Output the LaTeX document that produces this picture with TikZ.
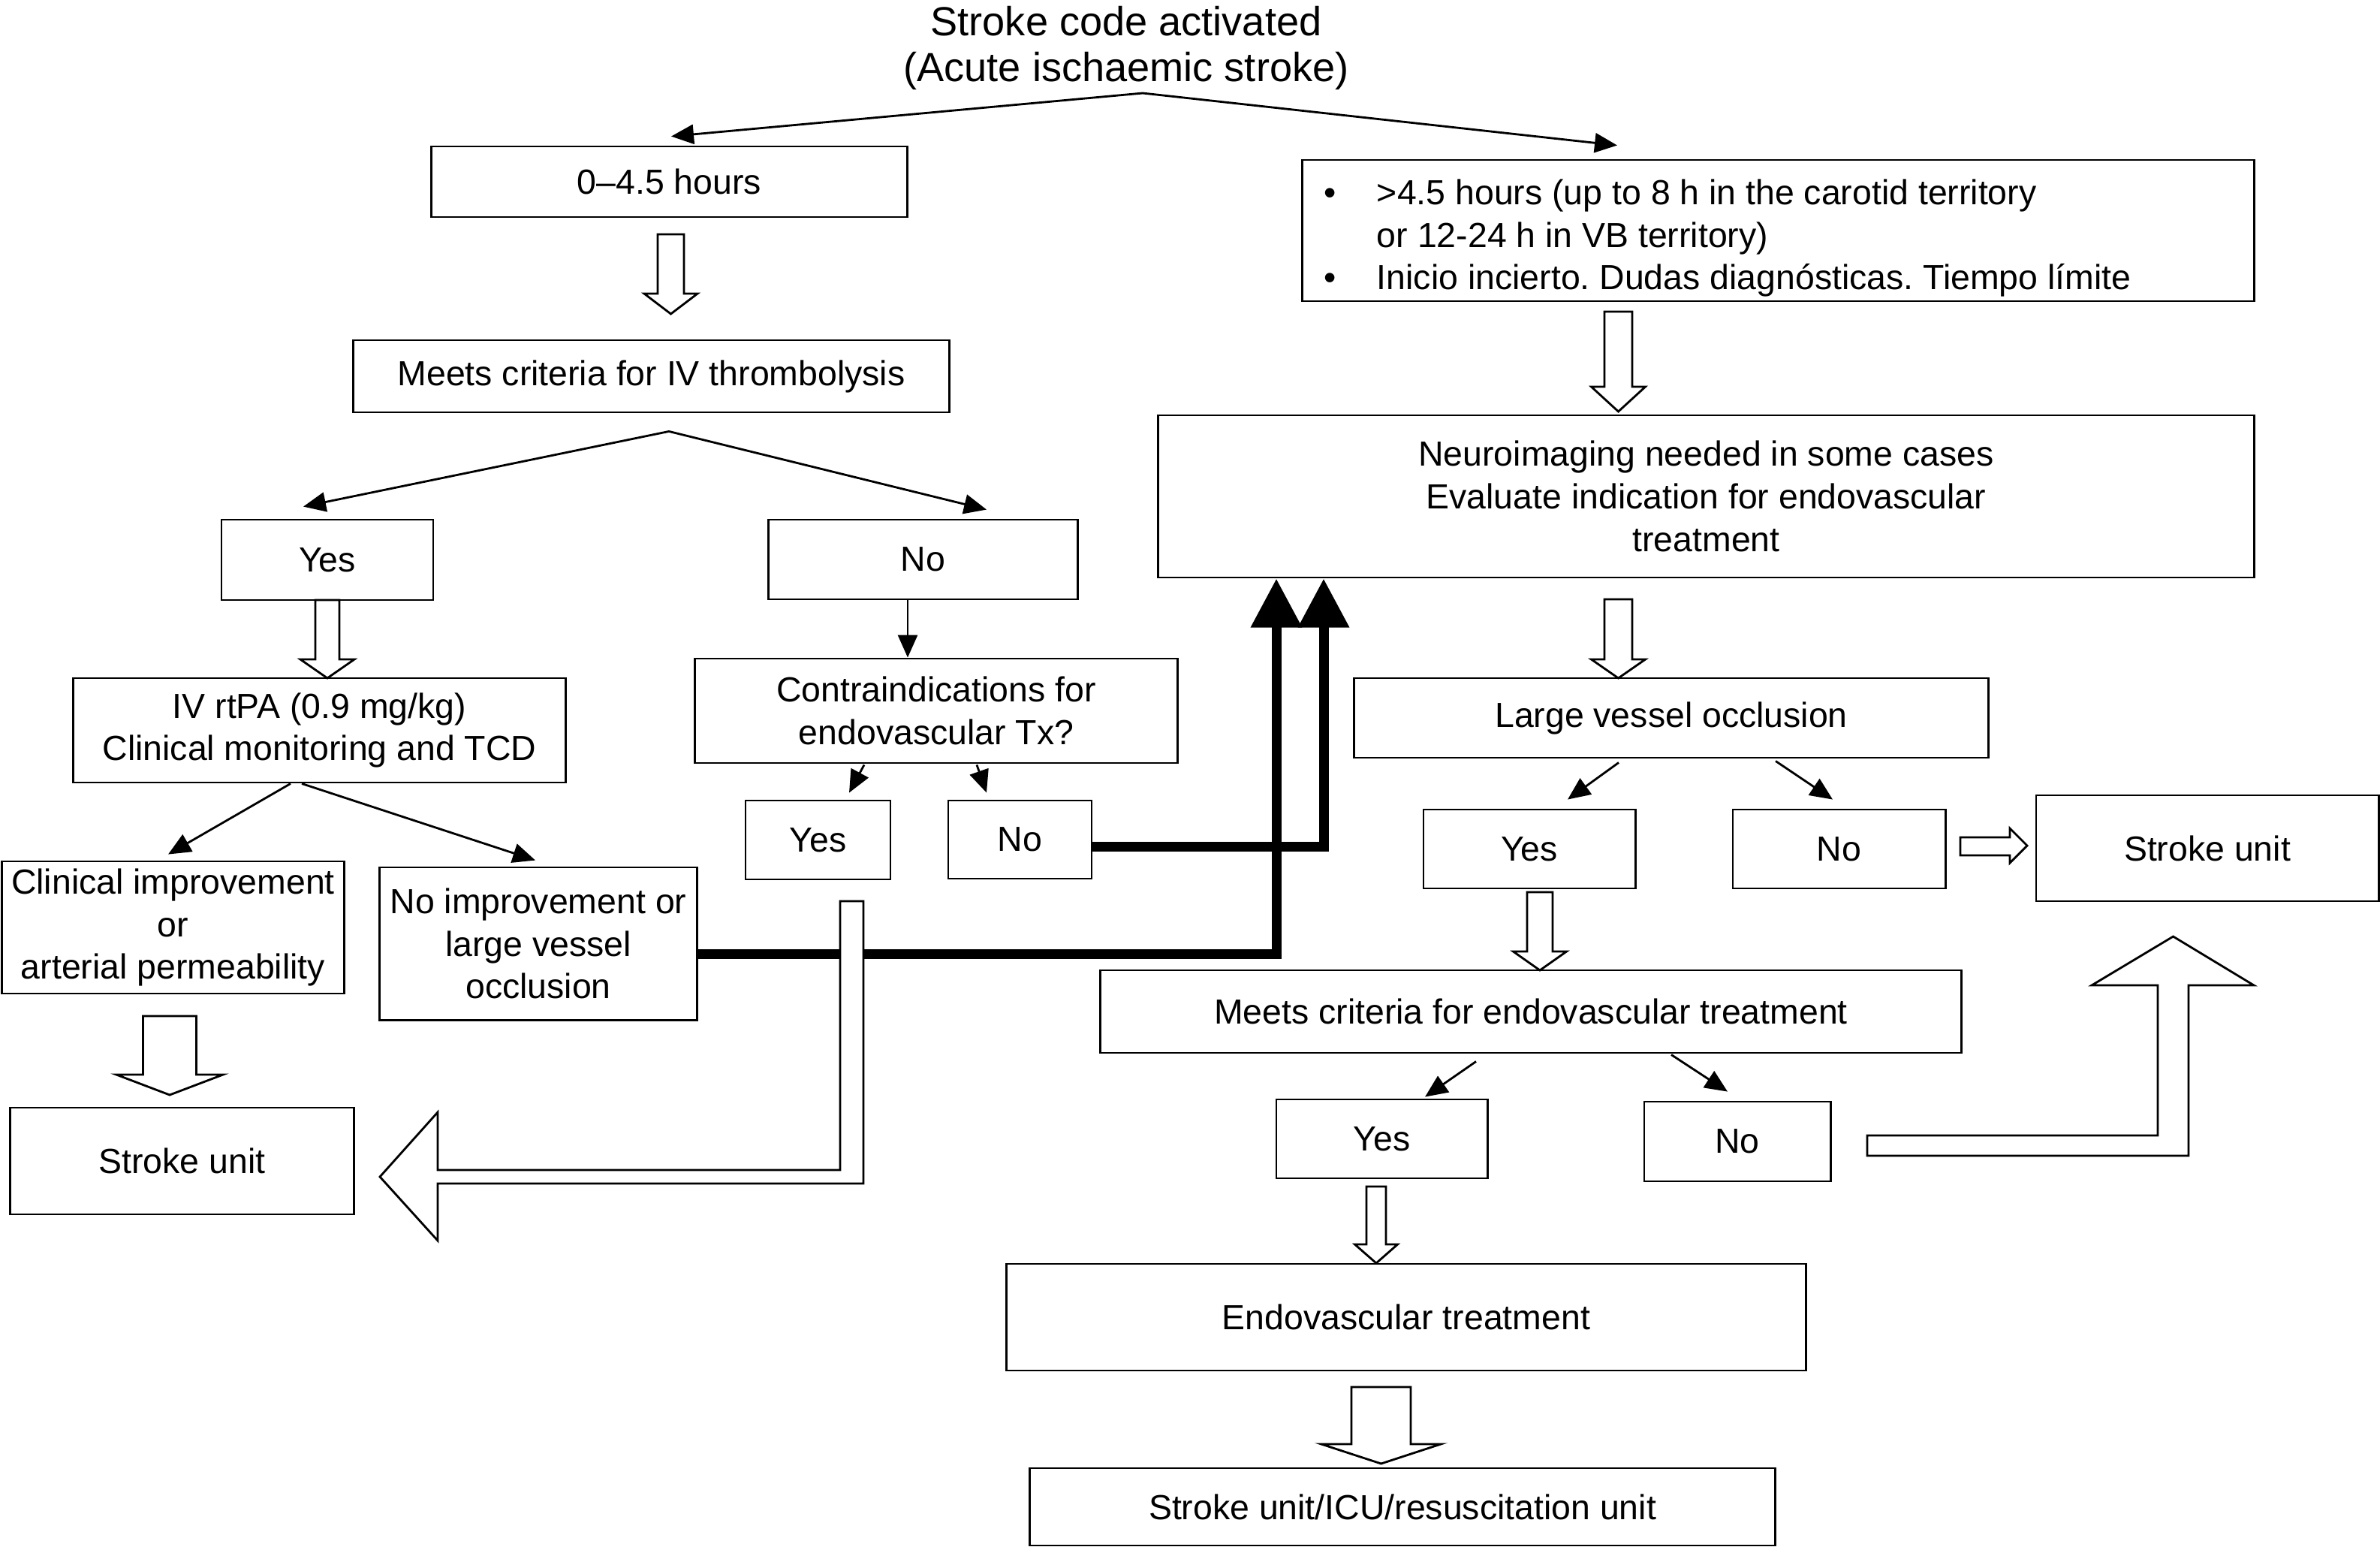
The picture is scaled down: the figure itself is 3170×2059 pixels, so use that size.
\documentclass[tikz,border=0pt]{standalone}
\usepackage{fontspec}
\setmainfont{Liberation Sans}
\usetikzlibrary{arrows.meta,calc}
\frenchspacing
\newcommand{\hdn}[6]{%
  \draw[hollow] (#1-#3,#2) -- (#1+#3,#2) -- (#1+#3,#4) -- (#1+#5,#4) -- (#1,#6) -- (#1-#5,#4) -- (#1-#3,#4) -- cycle;}
\begin{document}
\begin{tikzpicture}[x=0.01cm,y=-0.01cm,
  txt/.style={font=\fontsize{13.2pt}{16.1pt}\selectfont},
  box/.style={draw, line width=0.8pt, inner sep=0pt, align=center, txt},
  thinarrow/.style={line width=0.8pt, -{Triangle[length=3mm,width=2.6mm]}},
  thickarrow/.style={line width=1.3mm, -{Triangle[length=6.5mm,width=6.5mm]}},
  hollow/.style={draw, fill=white, line width=0.8pt, line join=miter}]
\useasboundingbox (0,0) rectangle (3170,2059);

% title
\node[font=\fontsize{15.4pt}{17.6pt}\selectfont, align=center] (title) at (1500,64)
  {Stroke code activated\\(Acute ischaemic stroke)};

% boxes
\node[box, minimum width=63.3mm, minimum height=9.4mm] (A) at (891.5,242) {0–4.5 hours};
\node[box, minimum width=79.3mm, minimum height=9.6mm] (B) at (867.5,501) {Meets criteria for IV thrombolysis};
\node[box, minimum width=126.7mm, minimum height=18.8mm] (C) at (2368.5,307) {};
\node[txt, anchor=west, align=left, inner sep=0pt] (Ct) at ($(C.west)+(30,10)$)
  {\makebox[7mm][l]{\textbullet}\textgreater4.5 hours (up to 8 h in the carotid territory\\
   \hspace*{7mm}or 12-24 h in VB territory)\\
   \makebox[7mm][l]{\textbullet}Inicio incierto. Dudas diagnósticas. Tiempo límite};
\node[box, minimum width=145.9mm, minimum height=21.6mm] (D) at (2272.5,661)
  {Neuroimaging needed in some cases\\Evaluate indication for endovascular\\treatment};
\node[box, minimum width=28.2mm, minimum height=10.7mm] (Y1) at (436,745.5) {Yes};
\node[box, minimum width=41.1mm, minimum height=10.6mm] (N1) at (1229.5,745) {No};
\node[box, minimum width=65.5mm, minimum height=13.9mm] (IV) at (425.5,972.5)
  {IV rtPA (0.9 mg/kg)\\Clinical monitoring and TCD};
\node[box, minimum width=64.2mm, minimum height=13.9mm] (CT) at (1247,946.5)
  {Contraindications for\\endovascular Tx?};
\node[box, minimum width=84.4mm, minimum height=10.6mm] (LVO) at (2226,956) {Large vessel occlusion};
\node[box, minimum width=19.3mm, minimum height=10.5mm] (Y3) at (1089.5,1118.5) {Yes};
\node[box, minimum width=19.1mm, minimum height=10.4mm] (N3) at (1358.5,1118) {No};
\node[box, minimum width=45.5mm, minimum height=17.6mm] (CI) at (230.5,1235)
  {Clinical improvement\\or\\arterial permeability};
\node[box, minimum width=42.2mm, minimum height=20.3mm] (NI) at (717,1256.5)
  {No improvement or\\large vessel\\occlusion};
\node[box, minimum width=28.2mm, minimum height=10.5mm] (Y2) at (2037,1130.5) {Yes};
\node[box, minimum width=28.3mm, minimum height=10.5mm] (N2) at (2449.5,1130.5) {No};
\node[box, minimum width=45.6mm, minimum height=14.1mm] (SU2) at (2940,1129.5) {Stroke unit};
\node[box, minimum width=114.6mm, minimum height=11.0mm] (MC) at (2039,1347) {Meets criteria for endovascular treatment};
\node[box, minimum width=45.7mm, minimum height=14.2mm] (SU1) at (242.5,1546) {Stroke unit};
\node[box, minimum width=28.1mm, minimum height=10.5mm] (Y4) at (1840.5,1516.5) {Yes};
\node[box, minimum width=24.8mm, minimum height=10.6mm] (N4) at (2314,1520) {No};
\node[box, minimum width=106.4mm, minimum height=14.2mm] (ET) at (1873,1754) {Endovascular treatment};
\node[box, minimum width=99.2mm, minimum height=10.3mm] (FIN) at (1868,2006.5) {Stroke unit/ICU/resuscitation unit};

% thin arrows
\coordinate (s1) at (1522,124);
\draw[thinarrow] (s1) -- ($(A.north)+(2.5,-12)$);
\draw[thinarrow] (s1) -- ($(C.north)+(-214.5,-18)$);
\coordinate (s2) at ($(B.south)+(23.5,24)$);
\draw[thinarrow] (s2) -- ($(Y1.north)+(-32,-16)$);
\draw[thinarrow] (s2) -- ($(N1.north)+(84.5,-12)$);
\draw[thinarrow] ($(N1.south)+(-20.5,0)$) -- ($(CT.north)+(-38,0)$);
\draw[thinarrow] ($(IV.south)+(-38.5,0)$) -- ($(CI.north)+(-6.5,-8)$);
\draw[thinarrow] ($(IV.south)+(-23.5,0)$) -- ($(NI.north)+(-4,-8)$);
\draw[thinarrow] ($(CT.south)+(-96,1)$) -- ($(Y3.north)+(41.5,-9)$);
\draw[thinarrow] ($(CT.south)+(54,1)$) -- ($(N3.north)+(-44.5,-9)$);
\draw[thinarrow] ($(LVO.south)+(-70,5)$) -- ($(Y2.north)+(51,-12)$);
\draw[thinarrow] ($(LVO.south)+(139,3)$) -- ($(N2.north)+(-8.5,-12)$);
\draw[thinarrow] ($(MC.south)+(-73,10)$) -- ($(Y4.north)+(57.5,-2)$);
\draw[thinarrow] ($(MC.south)+(187,1)$) -- ($(N4.north)+(-13,-12)$);

% thick arrows
\coordinate (k1) at (1700,1270);
\draw[thickarrow] (NI.east |- k1) -- (k1) -- (k1 |- D.south);
\coordinate (k2) at (1763,1127);
\draw[thickarrow] (N3.east |- k2) -- (k2) -- (k2 |- D.south);

% hollow arrows
\hdn{893.5}{312}{17.5}{391}{35.5}{418}
\hdn{436}{799}{16}{878}{36}{903}
\hdn{2155.5}{415}{18.5}{515}{36}{548}
\hdn{2155.5}{798}{18.5}{878}{36}{903}
\hdn{226}{1353}{35.5}{1431}{71}{1458}
\hdn{2051}{1188}{17}{1267}{35.5}{1292}
\hdn{1833}{1580}{13}{1657}{28.5}{1682}
\hdn{1839.5}{1847}{39.5}{1923}{79.5}{1949}
\draw[hollow] (2611,1115) -- (2677,1115) -- (2677,1103) -- (2700,1126) -- (2677,1149) -- (2677,1139) -- (2611,1139) -- cycle;
\draw[hollow] (1119,1200) -- (1150,1200) -- (1150,1576) -- (583,1576) -- (583,1652) -- (506,1567) -- (583,1481) -- (583,1558) -- (1119,1558) -- cycle;
\draw[hollow] (2487,1512) -- (2874,1512) -- (2874,1312) -- (2786,1312) -- (2894.5,1247) -- (3002,1312) -- (2915,1312) -- (2915,1539) -- (2487,1539) -- cycle;
\end{tikzpicture}
\end{document}
